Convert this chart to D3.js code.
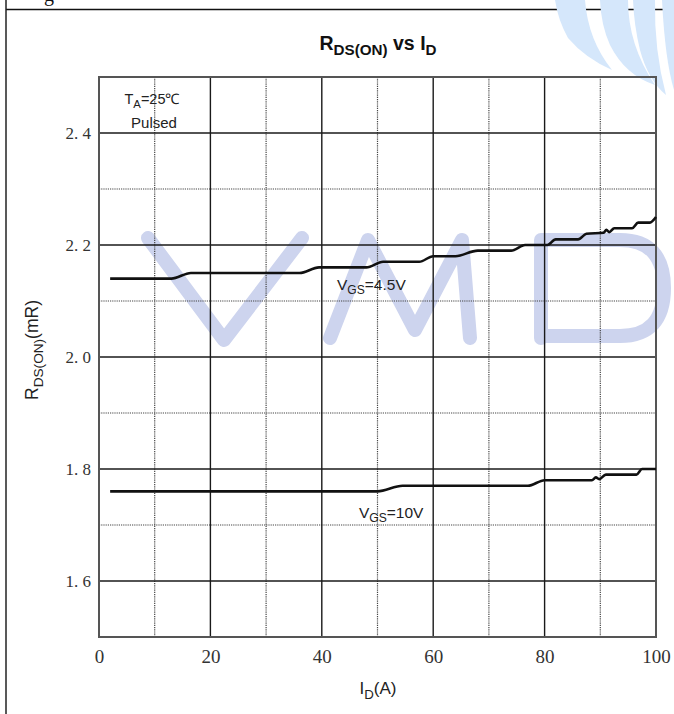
<!DOCTYPE html>
<html><head><meta charset="utf-8">
<script src="https://cdn.jsdelivr.net/npm/d3@7"></script>
<style>body{margin:0;background:#fff;}svg{display:block;}</style>
</head><body>
<svg id="c" width="674" height="714"></svg>
<script>
const xTicks = [0, 20, 40, 60, 80, 100];
const xMinor = [10, 30, 50, 70, 90];
const yTicks = [1.6, 1.8, 2.0, 2.2, 2.4];
const yMinor = [1.7, 1.9, 2.1, 2.3];
const yTickLabels = ["1. 6", "1. 8", "2. 0", "2. 2", "2. 4"];
const vgs45X = [2, 13, 16.5, 36, 39.5, 48, 51, 57.5, 60, 64, 68, 74, 76.5, 80.5, 82, 86, 87.5, 90.6, 91.1, 91.6, 92.5, 95.7, 96.8, 98.9, 100];
const vgs45Y = [2.14, 2.14, 2.15, 2.15, 2.16, 2.16, 2.17, 2.17, 2.18, 2.18, 2.19, 2.19, 2.2, 2.2, 2.21, 2.21, 2.22, 2.222, 2.227, 2.223, 2.23, 2.23, 2.24, 2.24, 2.25];
const vgs10X = [2, 50, 54.5, 77, 80, 88.5, 89.2, 89.8, 91, 96.5, 97.5, 100];
const vgs10Y = [1.76, 1.76, 1.77, 1.77, 1.78, 1.78, 1.785, 1.782, 1.79, 1.79, 1.80, 1.80];

const svg = d3.select("#c");
const L = 99, R = 656, T = 77, B = 637;
const x = d3.scaleLinear().domain([0, 100]).range([L, R]);
const y = d3.scaleLinear().domain([1.5, 2.5]).range([B, T]);

// page frame
svg.append("line").attr("x1", 6).attr("x2", 674).attr("y1", 9.5).attr("y2", 9.5).attr("stroke", "#111").attr("stroke-width", 1.3);
svg.append("line").attr("x1", 6).attr("x2", 6).attr("y1", 0).attr("y2", 714).attr("stroke", "#222").attr("stroke-width", 1.5);
svg.append("text").attr("x", 44).attr("y", 1).attr("font-family", "Liberation Serif").attr("font-size", 20).attr("fill", "#111").text("g");

// watermark
const wm = svg.append("g");
const wmC = "#cdd4ee";
wm.append("path").attr("d", "M148,238 L224,340 L302,238").attr("fill", "none").attr("stroke", wmC).attr("stroke-width", 14).attr("stroke-linecap", "round").attr("stroke-linejoin", "round");
wm.append("path").attr("d", "M330,338 L368,240 L415,330 L462,240 L470,338").attr("fill", "none").attr("stroke", wmC).attr("stroke-width", 14).attr("stroke-linecap", "round").attr("stroke-linejoin", "round");
wm.append("path").attr("d", "M541,338 L541,240 L620,240 Q664,240 664,288 Q664,336 620,336 L541,336").attr("fill", "none").attr("stroke", wmC).attr("stroke-width", 14).attr("stroke-linecap", "round").attr("stroke-linejoin", "round");
const arcC = "#d5e7fb";
wm.append("path").attr("d", "M555,0 L585,0 Q588,40 612,70 Q585,58 568,38 Q558,20 555,0 Z").attr("fill", arcC);
wm.append("path").attr("d", "M600,0 L628,0 Q628,45 655,85 Q625,75 610,45 Q601,25 600,0 Z").attr("fill", arcC);
wm.append("path").attr("d", "M633,0 L655,0 Q654,50 666,95 Q648,80 640,50 Q634,25 633,0 Z").attr("fill", arcC);
wm.append("path").attr("d", "M662,0 L674,0 L674,90 Q665,60 662,0 Z").attr("fill", arcC);

// grid
const g = svg.append("g");
g.selectAll(".xm").data(xMinor).join("line").attr("x1", d => x(d)).attr("x2", d => x(d)).attr("y1", T).attr("y2", B)
  .attr("stroke", "#444").attr("stroke-width", 1.2).attr("stroke-dasharray", "1.2,1");
g.selectAll(".ym").data(yMinor).join("line").attr("x1", L).attr("x2", R).attr("y1", d => y(d)).attr("y2", d => y(d))
  .attr("stroke", "#444").attr("stroke-width", 1.2).attr("stroke-dasharray", "1.2,1");
g.selectAll(".xs").data(xTicks.slice(1, -1)).join("line").attr("x1", d => x(d)).attr("x2", d => x(d)).attr("y1", T).attr("y2", B)
  .attr("stroke", "#1a1a1a").attr("stroke-width", 1.4);
g.selectAll(".ys").data(yTicks).join("line").attr("x1", L).attr("x2", R).attr("y1", d => y(d)).attr("y2", d => y(d))
  .attr("stroke", "#1a1a1a").attr("stroke-width", 1.4);
g.append("rect").attr("x", L).attr("y", T).attr("width", R - L).attr("height", B - T).attr("fill", "none").attr("stroke", "#555").attr("stroke-width", 2);

// axes labels via d3 axes
const xAxis = svg.append("g").attr("transform", `translate(0,${B})`).call(d3.axisBottom(x).tickValues(xTicks).tickSize(0).tickPadding(13).tickFormat(d3.format("d")));
xAxis.select(".domain").remove();
xAxis.selectAll("text").attr("font-family", "Liberation Serif").attr("font-size", 19).attr("fill", "#333");
const yAxis = svg.append("g").attr("transform", `translate(${L},0)`).call(d3.axisLeft(y).tickValues(yTicks).tickSize(0).tickPadding(8).tickFormat((d, i) => yTickLabels[i]));
yAxis.select(".domain").remove();
yAxis.selectAll("text").attr("font-family", "Liberation Serif").attr("font-size", 17).attr("fill", "#333");

// series
const line = d3.line().x(d => x(d[0])).y(d => y(d[1])).curve(d3.curveMonotoneX);
svg.append("path").datum(d3.zip(vgs45X, vgs45Y)).attr("d", line).attr("fill", "none").attr("stroke", "#111").attr("stroke-width", 2.6);
svg.append("path").datum(d3.zip(vgs10X, vgs10Y)).attr("d", line).attr("fill", "none").attr("stroke", "#111").attr("stroke-width", 2.6);

const sans = "Liberation Sans";
function sub(t, parts) {
  parts.forEach(p => {
    const ts = t.append("tspan").text(p[0]);
    if (p[1] === "sub") ts.attr("font-size", "0.78em").attr("dy", "0.35em");
    if (p[1] === "up") ts.attr("dy", "-0.27em");
  });
}
// series labels
let t = svg.append("text").attr("x", 337).attr("y", 290).attr("font-family", sans).attr("font-size", 15.5).attr("fill", "#222");
sub(t, [["V"], ["GS", "sub"], ["=4.5V", "up"]]);
t = svg.append("text").attr("x", 359).attr("y", 518).attr("font-family", sans).attr("font-size", 15.5).attr("fill", "#222");
sub(t, [["V"], ["GS", "sub"], ["=10V", "up"]]);

// annotation
t = svg.append("text").attr("x", 152).attr("y", 104).attr("text-anchor", "middle").attr("font-family", sans).attr("font-size", 14.5).attr("fill", "#222");
sub(t, [["T"], ["A", "sub"], ["=25℃", "up"]]);
svg.append("text").attr("x", 154).attr("y", 128).attr("text-anchor", "middle").attr("font-family", sans).attr("font-size", 15).attr("fill", "#222").text("Pulsed");

// title
t = svg.append("text").attr("x", 378).attr("y", 50).attr("text-anchor", "middle").attr("font-family", sans).attr("font-weight", "bold").attr("font-size", 19.5).attr("fill", "#111");
sub(t, [["R"], ["DS(ON)", "sub"], [" vs I", "up"], ["D", "sub"]]);

// axis titles
t = svg.append("text").attr("x", 378).attr("y", 694).attr("text-anchor", "middle").attr("font-family", sans).attr("font-size", 17).attr("fill", "#222");
sub(t, [["I"], ["D", "sub"], ["(A)", "up"]]);
t = svg.append("text").attr("transform", "translate(38,350) rotate(-90)").attr("text-anchor", "middle").attr("font-family", sans).attr("font-size", 17.5).attr("fill", "#222");
sub(t, [["R"], ["DS(ON)", "sub"], ["(mR)", "up"]]);
</script>
</body></html>
